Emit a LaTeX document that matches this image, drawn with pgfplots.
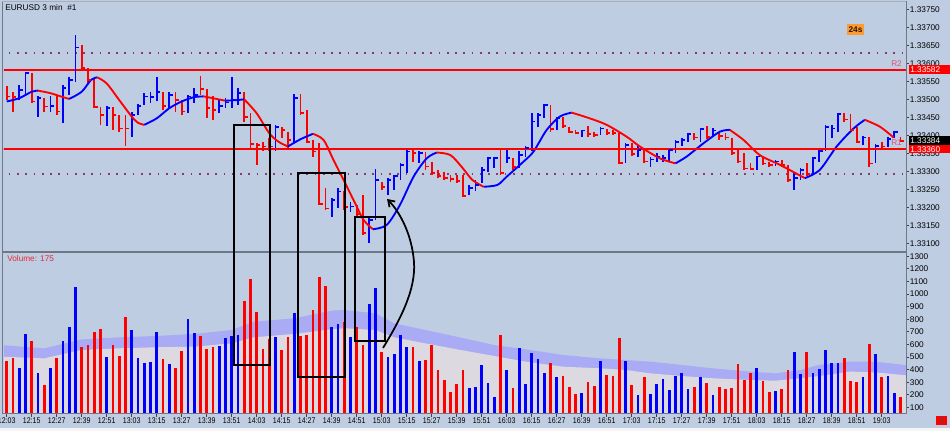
\documentclass[border=0pt]{standalone}
\usepackage{fontspec}
\setmainfont{Liberation Sans}
\usepackage{pgfplots}
\pgfplotsset{compat=1.18}
\usepackage{pgfplotstable}
\usetikzlibrary{arrows.meta}
\definecolor{bg}{HTML}{BFCDE2}
\definecolor{lav}{HTML}{A9ABF5}
\definecolor{gry}{HTML}{DCDAE0}
\definecolor{mtred}{HTML}{FF0000}
\definecolor{mtblue}{HTML}{0000FF}
\definecolor{dotc}{HTML}{8A3A66}
\definecolor{frame}{HTML}{6E7887}
\definecolor{pinkc}{HTML}{E0507A}
\definecolor{volred}{HTML}{E8283A}
\definecolor{org}{HTML}{FF9A2E}
\pgfdeclareplotmark{rtick}{\pgfpathmoveto{\pgfqpoint{0pt}{0pt}}\pgfpathlineto{\pgfqpoint{2.6pt}{0pt}}\pgfusepathqstroke}
\newcommand\ff{\fontsize{6.2}{7}\selectfont}

\pgfplotstableread{
i h l c v u
0 1.33537 1.33498 1.33508 471 0
1 1.33521 1.33466 1.33506 492 0
2 1.33540 1.33498 1.33526 410 1
3 1.33577 1.33512 1.33574 680 1
4 1.33574 1.33489 1.33494 627 0
5 1.33508 1.33452 1.33503 370 1
6 1.33503 1.33466 1.33480 278 0
7 1.33508 1.33466 1.33481 410 1
8 1.33508 1.33456 1.33466 495 0
9 1.33540 1.33433 1.33531 627 1
10 1.33563 1.33512 1.33554 741 1
11 1.33679 1.33549 1.33644 1056 1
12 1.33651 1.33581 1.33586 582 0
13 1.33586 1.33544 1.33554 593 0
14 1.33558 1.33475 1.33478 701 0
15 1.33480 1.33429 1.33456 720 0
16 1.33480 1.33426 1.33475 503 1
17 1.33480 1.33415 1.33456 593 0
18 1.33456 1.33410 1.33419 508 0
19 1.33456 1.33369 1.33419 817 0
20 1.33466 1.33396 1.33456 714 1
21 1.33486 1.33456 1.33481 489 1
22 1.33517 1.33484 1.33508 450 1
23 1.33521 1.33489 1.33506 460 1
24 1.33561 1.33494 1.33521 698 1
25 1.33521 1.33470 1.33481 484 0
26 1.33519 1.33475 1.33512 444 1
27 1.33521 1.33466 1.33498 415 0
28 1.33498 1.33456 1.33466 550 0
29 1.33512 1.33461 1.33508 802 1
30 1.33531 1.33489 1.33512 688 1
31 1.33565 1.33512 1.33528 667 0
32 1.33528 1.33447 1.33475 566 0
33 1.33508 1.33443 1.33470 582 0
34 1.33498 1.33461 1.33481 587 1
35 1.33503 1.33475 1.33491 651 1
36 1.33561 1.33475 1.33498 667 1
37 1.33531 1.33484 1.33517 675 1
38 1.33521 1.33438 1.33450 947 0
39 1.33461 1.33364 1.33376 1122 0
40 1.33378 1.33318 1.33373 860 0
41 1.33382 1.33355 1.33369 563 0
42 1.33392 1.33355 1.33369 643 0
43 1.33429 1.33355 1.33424 659 1
44 1.33424 1.33392 1.33415 556 0
45 1.33410 1.33359 1.33387 656 0
46 1.33514 1.33382 1.33503 847 1
47 1.33514 1.33456 1.33461 667 0
48 1.33470 1.33378 1.33382 675 0
49 1.33387 1.33341 1.33355 870 0
50 1.33378 1.33206 1.33209 1132 0
51 1.33253 1.33193 1.33197 1066 0
52 1.33225 1.33174 1.33220 735 1
53 1.33253 1.33197 1.33244 762 1
54 1.33244 1.33193 1.33200 780 0
55 1.33216 1.33188 1.33202 656 1
56 1.33206 1.33174 1.33182 741 0
57 1.33234 1.33123 1.33128 593 0
58 1.33170 1.33100 1.33165 921 1
59 1.33306 1.33165 1.33276 1045 1
60 1.33271 1.33248 1.33257 540 0
61 1.33281 1.33234 1.33276 503 1
62 1.33290 1.33248 1.33287 524 1
63 1.33322 1.33276 1.33318 675 1
64 1.33359 1.33295 1.33355 577 1
65 1.33359 1.33327 1.33350 582 0
66 1.33355 1.33322 1.33350 466 1
67 1.33355 1.33304 1.33313 476 0
68 1.33327 1.33290 1.33295 593 0
69 1.33304 1.33281 1.33287 394 0
70 1.33299 1.33276 1.33281 317 0
71 1.33290 1.33271 1.33278 222 0
72 1.33290 1.33267 1.33274 283 0
73 1.33290 1.33230 1.33231 394 0
74 1.33262 1.33234 1.33253 257 1
75 1.33276 1.33244 1.33262 262 1
76 1.33313 1.33267 1.33304 437 1
77 1.33341 1.33299 1.33336 294 1
78 1.33341 1.33308 1.33336 185 1
79 1.33359 1.33290 1.33295 675 0
80 1.33359 1.33322 1.33336 394 1
81 1.33336 1.33304 1.33311 257 0
82 1.33355 1.33308 1.33345 569 1
83 1.33369 1.33341 1.33364 283 1
84 1.33463 1.33355 1.33438 532 1
85 1.33461 1.33424 1.33456 487 1
86 1.33487 1.33447 1.33484 370 1
87 1.33484 1.33410 1.33417 450 0
88 1.33452 1.33415 1.33447 339 1
89 1.33452 1.33419 1.33426 349 0
90 1.33424 1.33406 1.33410 265 0
91 1.33415 1.33406 1.33407 206 0
92 1.33415 1.33396 1.33413 217 1
93 1.33426 1.33396 1.33404 304 0
94 1.33410 1.33396 1.33401 272 0
95 1.33424 1.33401 1.33419 466 1
96 1.33417 1.33401 1.33406 357 0
97 1.33415 1.33401 1.33406 349 0
98 1.33406 1.33322 1.33324 651 0
99 1.33378 1.33324 1.33373 466 1
100 1.33378 1.33343 1.33348 278 0
101 1.33369 1.33341 1.33359 196 1
102 1.33359 1.33322 1.33327 344 0
103 1.33341 1.33313 1.33333 206 1
104 1.33350 1.33327 1.33341 283 1
105 1.33345 1.33327 1.33336 328 1
106 1.33364 1.33327 1.33359 238 1
107 1.33387 1.33350 1.33382 349 1
108 1.33392 1.33369 1.33387 376 1
109 1.33406 1.33382 1.33404 249 1
110 1.33406 1.33387 1.33394 265 0
111 1.33419 1.33382 1.33417 344 1
112 1.33426 1.33389 1.33396 294 0
113 1.33419 1.33396 1.33413 196 1
114 1.33410 1.33387 1.33398 262 0
115 1.33406 1.33387 1.33394 249 0
116 1.33392 1.33345 1.33350 257 0
117 1.33364 1.33322 1.33327 444 0
118 1.33350 1.33304 1.33308 317 0
119 1.33322 1.33304 1.33306 370 0
120 1.33343 1.33304 1.33341 410 1
121 1.33341 1.33318 1.33322 307 0
122 1.33327 1.33313 1.33318 222 0
123 1.33331 1.33315 1.33327 228 1
124 1.33330 1.33313 1.33318 246 0
125 1.33318 1.33271 1.33276 397 0
126 1.33295 1.33248 1.33281 542 1
127 1.33308 1.33276 1.33304 365 1
128 1.33322 1.33287 1.33293 542 0
129 1.33341 1.33290 1.33336 373 1
130 1.33361 1.33327 1.33357 405 1
131 1.33429 1.33355 1.33424 553 1
132 1.33429 1.33392 1.33419 455 1
133 1.33463 1.33410 1.33459 452 1
134 1.33461 1.33438 1.33444 489 0
135 1.33459 1.33410 1.33415 307 0
136 1.33424 1.33378 1.33382 299 0
137 1.33398 1.33373 1.33394 339 1
138 1.33396 1.33313 1.33322 603 0
139 1.33376 1.33322 1.33370 521 1
140 1.33380 1.33364 1.33369 344 0
141 1.33394 1.33367 1.33389 349 1
142 1.33413 1.33392 1.33410 212 1
143 1.33396 1.33382 1.33384 185 0
}\bars

\pgfplotstableread{
i lo hi
-1 503 595
6 489 569
12 556 640
18 569 656
24 577 667
30 582 683
36 608 714
39.5 656 780
46 683 807
52 720 868
54 728 873
59 714 847
62 656 767
67 608 714
72 561 661
78 508 595
83 463 561
89 423 516
95 410 489
99 397 476
103 370 463
108 349 437
113 331 410
119 317 384
123 312 370
127 331 397
130 349 437
135 384 463
139 378 463
145 349 429
}\band

\begin{document}
\begin{tikzpicture}
\path[use as bounding box] (0,0) rectangle (712.5pt,323.25pt);
\fill[bg] (0,0) rectangle (712.5pt,323.25pt);

% ---------------- price panel ----------------
\begin{axis}[
  at={(3pt,135pt)}, anchor=south west, scale only axis,
  width=676.5pt, height=186.75pt,
  xmin=-0.432, xmax=143.888, ymin=1.330786, ymax=1.337703,
  axis line style={draw=none},
  xtick=\empty,
  ytick={1.33100,1.33150,1.33200,1.33250,1.33300,1.33350,1.33400,1.33450,1.33500,1.33550,1.33600,1.33650,1.33700,1.33750},
  yticklabels={1.33100,1.33150,1.33200,1.33250,1.33300,1.33350,1.33400,1.33450,1.33500,1.33550,1.33600,1.33650,1.33700,1.33750},
  ytick pos=right, yticklabel pos=right, tick align=outside,
  major tick length=2.25pt, tick style={black!75, line width=0.6pt},
  yticklabel style={font=\ff, anchor=west, inner sep=0pt, xshift=0.5pt},
  scaled y ticks=false,
]
\addplot[draw=dotc, line width=1.3pt, dash pattern=on 1.3pt off 4.9pt] coordinates {(-1,1.33628) (145,1.33628)};
\addplot[draw=dotc, line width=1.3pt, dash pattern=on 1.3pt off 4.9pt] coordinates {(-1,1.33292) (145,1.33292)};
% resistance levels R2, R1
\addplot[draw=mtred, line width=1.4pt, solid] coordinates {(-1,1.33582) (145,1.33582)};
\addplot[draw=mtred, line width=1.4pt, solid] coordinates {(-1,1.33362) (145,1.33362)};

\addplot[mtred, only marks, mark=rtick, mark options={line width=1.3pt},
  restrict expr to domain={\thisrow{u}}{-0.5:0.5},
  error bars/.cd, y dir=both, y explicit, error mark=none, error bar style={line width=1.3pt}]
  table[x=i, y=c, y error plus expr=\thisrow{h}-\thisrow{c}, y error minus expr=\thisrow{c}-\thisrow{l}] {\bars};
\addplot[mtblue, only marks, mark=rtick, mark options={line width=1.3pt},
  restrict expr to domain={\thisrow{u}}{0.5:1.5},
  error bars/.cd, y dir=both, y explicit, error mark=none, error bar style={line width=1.3pt}]
  table[x=i, y=c, y error plus expr=\thisrow{h}-\thisrow{c}, y error minus expr=\thisrow{c}-\thisrow{l}] {\bars};

% moving average, coloured by slope
\addplot[mtblue, line width=1.4pt, smooth] coordinates {(0,1.33494) (2,1.33503) (4,1.33521) (5,1.33524)};
\addplot[mtred, line width=1.4pt, smooth] coordinates {(5,1.33524) (7,1.33517) (9,1.33506) (10,1.33501)};
\addplot[mtblue, line width=1.4pt, smooth] coordinates {(10,1.33501) (12,1.33521) (13.5,1.33554) (14.5,1.33561)};
\addplot[mtred, line width=1.4pt, smooth] coordinates {(14.5,1.33561) (16,1.33544) (18,1.33498) (20,1.33452) (21,1.33435) (22,1.33429)};
\addplot[mtblue, line width=1.4pt, smooth] coordinates {(22,1.33429) (24,1.33447) (26,1.33475) (28,1.33494) (30,1.33506) (31.5,1.33508)};
\addplot[mtred, line width=1.4pt, smooth] coordinates {(31.5,1.33508) (33,1.33503) (35,1.33496)};
\addplot[mtblue, line width=1.4pt, smooth] coordinates {(35,1.33496) (37,1.33498) (38,1.33500)};
\addplot[mtred, line width=1.4pt, smooth] coordinates {(38,1.33500) (40,1.33461) (42,1.33406) (43.5,1.33382) (45,1.33369)};
\addplot[mtblue, line width=1.4pt, smooth] coordinates {(45,1.33369) (47,1.33389) (49,1.33404)};
\addplot[mtred, line width=1.4pt, smooth] coordinates {(49,1.33404) (50.7,1.33387) (52.3,1.33331) (53.9,1.33276) (55.5,1.33220) (57.1,1.33165) (58.6,1.33139)};
\addplot[mtblue, line width=1.4pt, smooth] coordinates {(58.6,1.33139) (60.8,1.33151) (62.9,1.33206) (65.1,1.33285) (67.2,1.33336) (68.8,1.33352)};
\addplot[mtred, line width=1.4pt, smooth] coordinates {(68.8,1.33352) (71,1.33345) (73,1.33308) (74.5,1.33276) (76.3,1.33257)};
\addplot[mtblue, line width=1.4pt, smooth] coordinates {(76.3,1.33257) (78.5,1.33262) (80,1.33285) (82.7,1.33327) (84.3,1.33355) (86.4,1.33415) (88.5,1.33452) (90.4,1.33463)};
\addplot[mtred, line width=1.4pt, smooth] coordinates {(90.4,1.33463) (93.3,1.33447) (96,1.33429) (99.2,1.33396) (101.3,1.33369) (104.5,1.33336) (107,1.33322)};
\addplot[mtblue, line width=1.4pt, smooth] coordinates {(107,1.33322) (108.8,1.33341) (111.5,1.33378) (114.1,1.33410) (115.7,1.33415)};
\addplot[mtred, line width=1.4pt, smooth] coordinates {(115.7,1.33415) (117.9,1.33387) (120.5,1.33345) (123.7,1.33318) (127.7,1.33281)};
\addplot[mtblue, line width=1.4pt, smooth] coordinates {(127.7,1.33281) (130.1,1.33304) (132.8,1.33369) (135.5,1.33419) (137.3,1.33443)};
\addplot[mtred, line width=1.4pt, smooth] coordinates {(137.3,1.33443) (139.7,1.33424) (141.9,1.33394)};
\draw[mtred, line width=1.4pt] (axis cs:-1,1.33362) -- (axis cs:145,1.33362);
\end{axis}

% ---------------- volume panel ----------------
\begin{axis}[
  at={(3pt,12.75pt)}, anchor=south west, scale only axis,
  width=676.5pt, height=120.75pt,
  xmin=-0.432, xmax=143.888, ymin=47.6, ymax=1325.4,
  axis line style={draw=none},
  xtick={0,4,...,140},
  xticklabels={12:03,12:15,12:27,12:39,12:51,13:03,13:15,13:27,13:39,13:51,14:03,14:15,14:27,14:39,14:51,15:03,15:15,15:27,15:39,15:51,16:03,16:15,16:27,16:39,16:51,17:03,17:15,17:27,17:39,17:51,18:03,18:15,18:27,18:39,18:51,19:03},
  xtick pos=bottom,
  ytick={100,200,300,400,500,600,700,800,900,1000,1100,1200,1300},
  yticklabels={100,200,300,400,500,600,700,800,900,1000,1100,1200,1300},
  ytick pos=right, yticklabel pos=right, tick align=outside,
  major tick length=2.25pt, tick style={black!75, line width=0.6pt},
  yticklabel style={font=\ff, anchor=west, inner sep=0pt, xshift=0.5pt},
  xticklabel style={font=\ff, inner sep=0pt, xscale=0.85, yshift=-0.5pt},
]
\addplot[fill=lav, draw=none] table[x=i, y=hi] {\band} \closedcycle;
\addplot[fill=gry, draw=none] table[x=i, y=lo] {\band} \closedcycle;
\addplot[mtred, ycomb, line width=2.1pt, restrict expr to domain={\thisrow{u}}{-0.5:0.5}] table[x=i, y=v] {\bars};
\addplot[mtblue, ycomb, line width=2.1pt, restrict expr to domain={\thisrow{u}}{0.5:1.5}] table[x=i, y=v] {\bars};
\end{axis}

% ---------------- frame, labels, annotations (pixel coordinates) ----------------
\begin{scope}[x=0.75pt, y=-0.75pt, shift={(0pt,323.25pt)}]
\draw[frame, line width=1pt] (2.5,1.5) -- (2.5,414);
\draw[frame!60, line width=0.75pt] (2,1.5) -- (906,1.5);
\draw[frame, line width=0.75pt] (906,1) -- (906,414.5);
\draw[frame, line width=1.3pt] (2,252) -- (906,252);
\draw[frame, line width=0.75pt] (2,414) -- (906,414);
\fill[gray!8] (0,428.5) rectangle (950,431);

\node[anchor=west, font=\ff, inner sep=0pt] at (5,8) {EURUSD 3 min\ \ \#1};
\node[anchor=west, font=\ff, inner sep=0pt, text=volred] at (7,258.5) {Volume: 175};
\node[anchor=west, font=\ff, inner sep=0pt, text=pinkc] at (891,64) {R2};
\node[anchor=west, font=\ff, inner sep=0pt, text=pinkc] at (891,143) {R1};

\fill[mtred] (909,65) rectangle (950,74);
\node[anchor=west, font=\ff, inner sep=0pt, text=white] at (910,69.5) {1.33582};
\fill[mtred] (909,145) rectangle (950,153);
\node[anchor=west, font=\ff, inner sep=0pt, text=white] at (910,149.5) {1.33360};
\fill[black] (909,136.5) rectangle (950,145.5);
\node[anchor=west, font=\ff, inner sep=0pt, text=white] at (910,141) {1.33384};

\fill[org] (847,24) rectangle (864,35);
\node[font=\ff\bfseries, inner sep=0pt, text=black!80!brown] at (855.5,29.5) {24s};
\fill[mtred] (936,416) rectangle (947,425);
\node[font=\ff, inner sep=0pt, text=black!70] at (941.5,420.5) {8};

\draw[black, line width=1.5pt] (234,125) rectangle (270,365);
\draw[black, line width=1.5pt] (298,173) rectangle (345,377);
\draw[black, line width=1.5pt] (355,217) rectangle (385,341);
\draw[black, line width=1.3pt, -{Straight Barb[length=4.5pt,width=6pt]}]
  (383,348) .. controls (400,320) and (416,290) .. (414,262)
  .. controls (412,235) and (400,212) .. (387,199);
\end{scope}
\end{tikzpicture}
\end{document}
